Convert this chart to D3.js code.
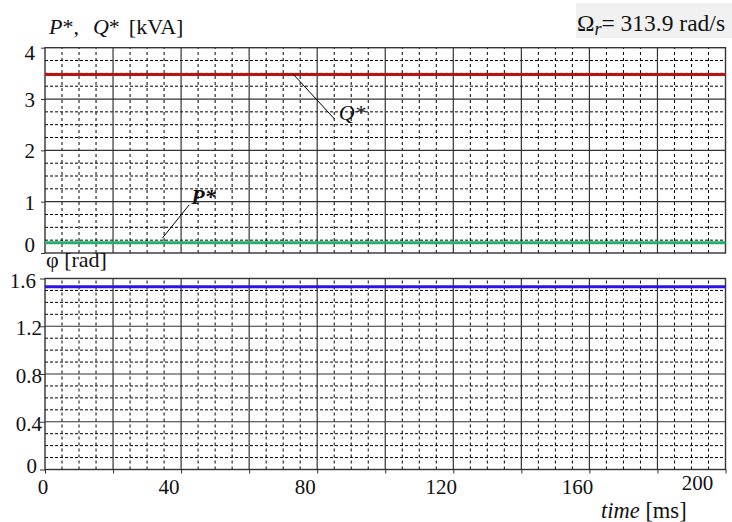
<!DOCTYPE html>
<html>
<head>
<meta charset="utf-8">
<script src="https://cdn.jsdelivr.net/npm/d3@7"></script>
<style>
  html, body { margin: 0; padding: 0; background: #fff; }
  svg { display: block; }
</style>
</head>
<body>
<svg id="chart" width="732" height="522"></svg>
<script>
// Time axis (ms) and the three constant signals
const time = [0, 200];
const qStar = [3.48, 3.48];   // reactive power reference Q* [kVA]
const pStar = [0.2, 0.2];     // active power reference P* [kVA]
const phi = [1.53, 1.53];     // angle φ [rad]

const timeTicks = [0, 40, 80, 120, 160, 200];
const powerTicks = [0, 1, 2, 3, 4];
const phiTicks = [0, 0.4, 0.8, 1.2, 1.6];

const svg = d3.select("#chart");

const x = d3.scaleLinear().domain([0, 200]).range([45, 725.5]);
const yTop = d3.scaleLinear().domain([0, 4]).range([253, 47.7]);
const yBot = d3.scaleLinear().domain([0, 1.6]).range([469.5, 278.5]);

function grid(g, y, yDomain, minorStep, majorStep) {
  const [y0, y1] = yDomain;
  const xMinor = d3.range(0, 200.001, 5).filter(v => v % 20 !== 0);
  const xMajor = d3.range(20, 200, 20);
  const nMinor = Math.round((y1 - y0) / minorStep);
  const yMinor = d3.range(0, nMinor + 1).map(i => y0 + i * minorStep)
    .filter(v => Math.abs(v / majorStep - Math.round(v / majorStep)) > 1e-6);
  const yMajor = d3.range(1, Math.round((y1 - y0) / majorStep)).map(i => y0 + i * majorStep);

  g.selectAll(".vminor").data(xMinor).join("line")
    .attr("x1", d => x(d)).attr("x2", d => x(d))
    .attr("y1", y(y0)).attr("y2", y(y1))
    .attr("stroke", "#000").attr("stroke-width", 1).attr("stroke-dasharray", "3,3");
  g.selectAll(".hminor").data(yMinor).join("line")
    .attr("x1", x(0)).attr("x2", x(200))
    .attr("y1", d => y(d)).attr("y2", d => y(d))
    .attr("stroke", "#000").attr("stroke-width", 1).attr("stroke-dasharray", "3,2");
  g.selectAll(".vmajor").data(xMajor).join("line")
    .attr("x1", d => x(d)).attr("x2", d => x(d))
    .attr("y1", y(y0)).attr("y2", y(y1))
    .attr("stroke", "#333").attr("stroke-width", 1.2);
  g.selectAll(".hmajor").data(yMajor).join("line")
    .attr("x1", x(0)).attr("x2", x(200))
    .attr("y1", d => y(d)).attr("y2", d => y(d))
    .attr("stroke", "#333").attr("stroke-width", 1.2);
  g.append("rect")
    .attr("x", x(0)).attr("y", y(y1))
    .attr("width", x(200) - x(0)).attr("height", y(y0) - y(y1))
    .attr("fill", "none").attr("stroke", "#333").attr("stroke-width", 1.4);
}

function label(sel, size = 21) {
  return sel.style("font-family", "'Liberation Serif'").attr("font-size", size).attr("fill", "#111");
}

// Panel 1: P*, Q*
const gTop = svg.append("g");
grid(gTop, yTop, [0, 4], 0.25, 1);
gTop.append("g").attr("transform", `translate(${x(0)},0)`)
  .call(d3.axisLeft(yTop).tickValues(powerTicks).tickSize(4).tickFormat(""))
  .call(g => g.select(".domain").remove())
  .call(g => g.selectAll("line").attr("stroke", "#333"));

const line = y => d3.line().x((d, i) => x(time[i])).y(d => y(d));

gTop.append("path").datum(qStar).attr("d", line(yTop))
  .attr("fill", "none").attr("stroke", "#b81414").attr("stroke-width", 3);
gTop.append("path").datum(pStar).attr("d", line(yTop))
  .attr("fill", "none").attr("stroke", "#1fb36a").attr("stroke-width", 3);

gTop.selectAll(".ylab").data(powerTicks).join("text")
  .call(label)
  .attr("x", 35).attr("y", d => yTop(d) + (d === 0 ? -1 : d === 4 ? 12 : 8))
  .attr("text-anchor", "end").text(d => d);

// leader lines and labels
gTop.append("line")
  .attr("x1", x(73)).attr("y1", yTop(3.48)).attr("x2", x(85.1)).attr("y2", yTop(2.61))
  .attr("stroke", "#000").attr("stroke-width", 1);
gTop.append("text").call(label, 22).attr("x", x(86.3)).attr("y", yTop(2.61) + 1)
  .attr("font-style", "italic").text("Q*");

gTop.append("line")
  .attr("x1", x(34.5)).attr("y1", yTop(0.29)).attr("x2", x(42.4)).attr("y2", yTop(0.94))
  .attr("stroke", "#000").attr("stroke-width", 1);
gTop.append("text").call(label, 22).attr("x", x(43.0)).attr("y", yTop(0.96))
  .attr("font-style", "italic").attr("font-weight", "bold").text("P*");

// title of the power panel
const t1 = svg.append("text").call(label, 22).attr("x", 49).attr("y", 34);
t1.append("tspan").attr("font-style", "italic").text("P");
t1.append("tspan").text("*,");
t1.append("tspan").attr("dx", 14).attr("font-style", "italic").text("Q");
t1.append("tspan").text("*");
t1.append("tspan").attr("dx", 9).text("[kVA]");

// rotor speed box
svg.append("rect").attr("x", 576).attr("y", 3).attr("width", 156).attr("height", 35)
  .attr("fill", "#f1f1f1");
const t2 = svg.append("text").call(label, 23.5).attr("x", 577).attr("y", 31);
t2.append("tspan").text("Ω");
t2.append("tspan").attr("font-style", "italic").attr("font-size", 18).attr("dy", 4).text("r");
t2.append("tspan").attr("dy", -4).text("= 313.9 rad/s");

// Panel 2: φ
const gBot = svg.append("g");
grid(gBot, yBot, [0, 1.6], 0.1, 0.4);
gBot.append("g").attr("transform", `translate(${x(0)},0)`)
  .call(d3.axisLeft(yBot).tickValues(phiTicks).tickSize(5).tickFormat(""))
  .call(g => g.select(".domain").remove())
  .call(g => g.selectAll("line").attr("stroke", "#333"));
gBot.append("g").attr("transform", `translate(0,${yBot(0)})`)
  .call(d3.axisBottom(x).tickValues(d3.range(0, 201, 20)).tickSize(4).tickFormat(""))
  .call(g => g.select(".domain").remove())
  .call(g => g.selectAll("line").attr("stroke", "#333"));

gBot.append("path").datum(phi).attr("d", line(yBot))
  .attr("fill", "none").attr("stroke", "#2a14e6").attr("stroke-width", 3);

gBot.selectAll(".ylab").data(phiTicks).join("text")
  .call(label)
  .attr("x", d => d === 0 ? 37 : (d === 1.6 ? 36 : 42))
  .attr("y", d => yBot(d) + (d === 0 ? 3 : 9))
  .attr("text-anchor", "end")
  .text(d => d === 0 ? "0" : d.toFixed(1));

svg.append("text").call(label, 22).attr("x", 46).attr("y", 267).text("φ [rad]");

// time axis labels
gBot.selectAll(".xlab").data(timeTicks).join("text")
  .call(label)
  .attr("x", d => x(d) + (d === 0 ? -2 : d === 200 ? -28 : -12))
  .attr("y", d => d === 200 ? 490 : 494)
  .attr("text-anchor", "middle").text(d => d);

const t3 = svg.append("text").call(label, 22.5).attr("x", 601).attr("y", 518);
t3.append("tspan").attr("font-style", "italic").text("time");
t3.append("tspan").text(" [ms]");
</script>
</body>
</html>
